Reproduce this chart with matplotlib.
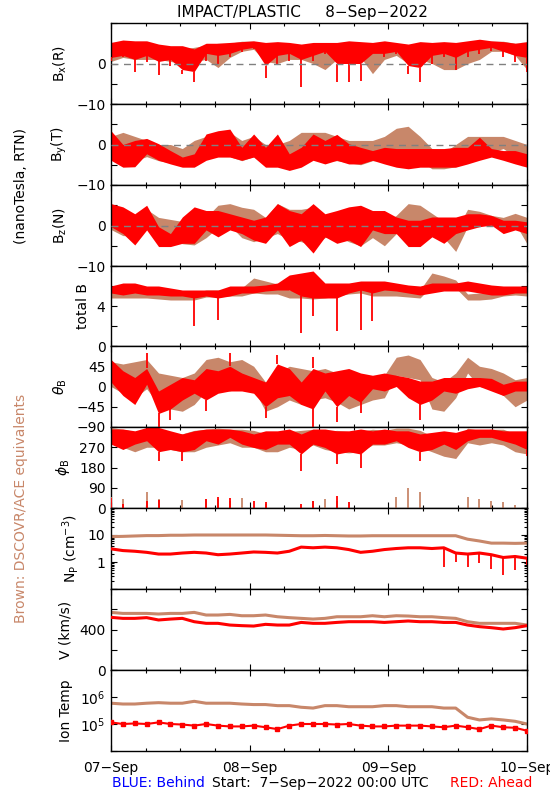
import numpy as np
import matplotlib
matplotlib.use('Agg')
import matplotlib.pyplot as plt
from matplotlib.ticker import MultipleLocator, LogLocator, NullFormatter

#########################################
# colours / time axis
RED = '#ff0000'; BROWN = '#c8876a'
day_ticks = [0, 24, 48, 72]
day_labels = ['07\u2212Sep', '08\u2212Sep', '09\u2212Sep', '10\u2212Sep']
times = np.linspace(0, 72, 36)   # 2-hour samples, hours since 7-Sep 00:00
nan = np.nan
#########################################
# Bx (R)
bx_red_hi = [5.2,5.8,5.6,5.6,4.8,4.4,4.4,3.6,5.0,5.0,5.2,5.4,5.6,5.2,5.4,5.2,4.8,5.2,5.2,5.2,5.6,5.4,5.2,5.6,5.2,4.8,5.4,5.2,5.4,5.2,5.6,6.0,5.6,5.4,5.0,5.4]
bx_red_lo = [1.5,2.0,1.0,2.0,0.5,1.0,-1.5,-2.0,2.5,2.0,2.5,3.5,4.0,-0.5,2.0,2.5,1.0,2.0,3.0,0.0,0.0,0.0,2.5,2.5,3.0,-0.5,-1.0,2.0,2.5,1.5,3.0,3.5,4.0,3.0,2.0,1.5]
bx_red_min = [0.7,1.5,-2.1,0.3,-2.9,-0.5,-2.5,-4.6,0.7,-0.1,1.5,2.8,3.6,-3.7,-0.1,0.7,-5.8,0.7,2.4,-4.6,-4.6,-4.2,2.4,1.5,2.4,-2.5,-4.6,-0.1,1.5,-1.7,1.5,2.4,3.2,1.5,0.3,-2.1]
bx_brn_hi = [5.0,5.0,4.5,4.5,4.0,4.0,3.5,4.0,4.5,5.0,5.0,5.5,5.5,4.0,4.0,4.0,4.5,4.5,4.5,4.5,4.5,4.5,5.0,5.0,5.0,4.0,4.5,4.0,3.0,3.0,3.5,5.0,5.5,5.5,5.0,5.0]
bx_brn_lo = [0.5,1.5,1.0,1.0,1.0,0.5,0.0,0.5,1.0,-1.0,1.5,3.0,3.5,0.5,0.0,1.0,1.0,0.0,-1.5,1.0,2.0,1.5,-2.5,1.0,2.0,0.0,1.0,0.0,-1.5,-1.5,0.0,1.0,3.0,3.0,2.0,-1.5]
# By (T)
by_red_hi = [3.4,0.0,1.0,1.5,0.2,-1.5,-3.1,-2.3,2.6,3.4,3.8,-0.7,2.6,-0.7,2.6,-2.3,-0.7,2.6,1.0,2.5,0.2,-0.7,-1.5,-0.7,-1.0,-1.0,-1.0,-1.0,-1.0,-0.7,-0.7,1.8,-1.0,-1.5,-1.5,-2.3]
by_red_lo = [-3.9,-5.6,-5.5,-2.3,-3.9,-4.8,-5.6,-5.6,-3.9,-3.1,-3.1,-3.9,-3.1,-5.6,-5.6,-6.4,-5.6,-3.9,-4.8,-3.9,-4.8,-4.8,-3.9,-4.8,-5.6,-6.0,-5.6,-5.6,-5.6,-5.6,-4.8,-3.9,-3.1,-3.9,-4.8,-5.6]
by_brn_hi = [2,3,2,1,0,0,-1,1,2,3,3,1,2,0,0,1,3,3,3,2,1,1,1,2,4,4.5,2,-1,-2,0,2,2,2,2,1,0]
by_brn_lo = [-3,-4,-4,-3,-4,-4.5,-5,-4.5,-3,-3,-3,-4,-3,-5,-5,-5,-4,-3,-4,-4,-4.5,-5,-4,-4,-3,-2,-4,-6,-6,-5.5,-2,-2,-2,-1,-3,-3]
# Bz (N)
bz_red_hi = [5.4,4.6,2.9,5.0,-0.3,-2.0,2.1,4.6,3.7,3.7,2.9,2.1,1.3,2.1,5.4,3.7,2.9,5.4,2.9,3.7,4.6,5.0,3.7,3.7,2.1,1.3,1.3,2.1,2.1,2.1,2.9,2.9,2.5,1.3,1.3,0.9]
bz_red_lo = [-0.3,-2.0,-4.8,-1.1,-5.2,-5.2,-4.4,-4.4,-1.1,-2.8,-1.1,-2.0,-3.6,-4.4,-1.1,-5.2,-3.6,-6.8,-2.8,-4.4,-3.6,-5.2,-1.1,-2.0,-2.0,-5.2,-5.2,-2.8,-4.4,-2.0,-1.1,-0.3,0.1,-2.0,-1.1,-2.0]
bz_brn_hi = [4.5,3.0,2.5,4.0,2.0,1.5,1.0,0.5,2.0,5.0,5.4,4.5,4.0,2.0,5.4,4.0,4.0,4.5,2.0,2.0,2.0,2.0,1.5,0.5,2.5,5.4,5.0,3.0,1.0,-1.5,4.0,3.5,2.5,2.0,3.0,2.0]
bz_brn_lo = [-1.0,-2.5,-2.5,0.0,-3.5,-3.5,-4.5,-4.8,-3.0,-0.5,0.0,-3.0,-4.0,-3.0,-2.0,-3.5,-4.0,-5.0,-3.0,-2.5,-4.0,-5.0,-3.0,-5.0,-2.0,1.0,1.0,-1.0,-3.0,-6.4,-0.3,0.0,0.0,-0.5,0.5,-4.5]
# total B
tb_red_hi = [6.0,6.3,6.3,6.0,6.0,5.8,5.6,5.6,5.6,5.6,6.0,6.0,6.0,6.1,6.3,7.1,7.3,7.5,6.3,6.3,6.3,6.5,6.5,6.5,6.3,6.1,6.0,6.3,6.3,6.3,6.5,6.3,6.1,6.0,6.0,6.0]
tb_red_lo = [5.3,5.1,5.3,5.1,5.1,5.0,5.0,4.8,5.0,4.8,5.0,5.3,5.3,5.5,5.6,5.6,5.0,4.8,4.8,4.8,5.3,5.6,5.3,5.6,5.5,5.3,5.1,5.3,5.5,5.5,5.5,5.3,5.1,5.1,5.3,5.3]
tb_red_min = [nan,nan,nan,nan,nan,nan,nan,2.0,nan,2.6,nan,nan,nan,nan,nan,nan,1.3,3.0,nan,1.5,nan,1.6,2.5,nan,nan,nan,nan,nan,nan,nan,nan,nan,nan,nan,nan,nan]
tb_brn_hi = [5.6,5.5,5.5,5.4,5.4,5.4,5.3,5.3,5.6,5.6,5.6,5.8,6.8,6.5,6.2,5.6,5.5,5.4,5.4,6.0,6.2,6.3,6.0,5.8,5.8,5.6,5.6,7.3,7.0,6.6,5.2,5.3,5.3,5.6,5.8,5.7]
tb_brn_lo = [4.8,4.8,4.8,4.8,4.7,4.6,4.6,4.6,4.9,4.9,5.0,5.0,5.3,5.2,5.2,4.8,4.8,4.7,4.8,5.0,5.2,5.3,5.0,5.0,5.0,4.9,4.8,6.0,6.0,5.8,4.6,4.6,4.7,5.0,5.1,5.0]
# theta_B
th_red_hi = [60,35,20,40,-10,5,20,15,40,35,45,30,20,10,50,40,10,40,30,35,40,30,25,30,25,20,12,12,20,20,20,20,18,5,12,12]
th_red_lo = [10,-20,-40,5,-60,-50,-30,-15,-30,-15,-10,-10,-15,-45,-25,-20,-40,-50,-10,-45,-20,-35,-5,-10,0,-25,-40,-30,-10,-15,-5,0,-10,-20,-10,-10]
th_red_min = [nan,nan,nan,nan,-90,-75,nan,nan,-55,nan,nan,nan,nan,-70,nan,nan,nan,-90,nan,-80,nan,-60,nan,nan,nan,nan,-75,nan,nan,nan,nan,nan,nan,nan,nan,nan]
th_red_max = [nan,nan,nan,75,nan,nan,nan,nan,nan,nan,75,nan,nan,nan,70,nan,nan,65,nan,nan,nan,nan,nan,nan,nan,nan,nan,nan,nan,nan,nan,nan,nan,nan,nan,nan]
th_brn_hi = [55,50,55,60,30,25,20,30,60,65,55,60,45,10,30,45,40,35,40,30,35,25,20,25,65,70,60,20,10,30,65,45,40,30,15,20]
th_brn_lo = [0,-15,-25,-5,-40,-50,-55,-40,-10,-5,-10,0,-5,-55,-45,-30,-40,-30,-25,-35,-50,-40,-30,-25,25,20,15,-50,-55,-25,30,0,-5,-20,-45,-30]
# phi_B
ph_red_hi = [351,351,343,358,358,343,329,343,351,351,351,343,329,343,343,351,329,351,351,343,343,351,343,351,343,343,329,336,343,336,351,351,351,343,343,343]
ph_red_lo = [284,260,284,299,250,260,250,260,299,284,314,284,269,260,284,284,240,284,269,240,250,240,284,284,299,269,250,260,284,260,299,314,314,299,284,260]
ph_red_min = [nan,nan,nan,nan,210,nan,210,nan,nan,nan,nan,nan,nan,nan,nan,nan,166,nan,nan,195,nan,180,nan,nan,nan,nan,210,nan,nan,nan,nan,nan,nan,nan,nan,230]
ph_red_low = [45,20,0,30,35,0,0,0,40,50,45,0,30,25,0,0,20,30,0,55,25,0,0,0,0,0,0,0,0,0,0,0,0,0,0,0]
ph_brn_hi = [358,350,340,345,340,330,330,345,350,355,350,350,345,330,320,340,345,350,340,345,340,340,350,345,355,355,345,320,300,300,355,345,350,350,330,320]
ph_brn_lo = [290,270,250,270,270,260,250,250,270,280,290,270,270,250,250,270,260,280,260,250,245,250,280,280,290,280,270,250,230,220,290,280,290,280,250,240]
ph_brn_low = [50,40,0,70,40,0,35,0,40,40,30,45,0,20,0,0,0,30,40,30,0,0,0,0,50,90,70,0,0,0,50,40,30,25,15,0]
# proton density
np_red = [3.07,2.65,2.50,2.28,1.97,1.97,2.15,2.28,2.15,1.86,1.97,2.15,2.35,2.28,2.15,2.50,3.56,3.36,3.56,3.36,2.89,2.28,2.50,2.89,3.16,3.36,3.36,3.16,3.36,2.15,1.97,2.15,1.86,1.47,1.60,1.38]
np_red_min = [nan,nan,nan,nan,nan,nan,nan,nan,nan,nan,nan,nan,nan,nan,nan,nan,nan,nan,nan,nan,nan,nan,nan,nan,nan,nan,nan,nan,0.66,1.0,0.66,0.9,0.57,0.32,0.49,0.77]
np_brn = [8.7,8.9,9.2,9.5,9.5,9.8,9.8,10,10,10,10,10,10,10,9.8,9.6,9.4,9.4,9.6,9.4,9.2,9.2,9.4,9.4,9.4,9.4,9.4,9.4,9.4,9.4,7.0,6.0,5.0,5.0,4.9,5.0]
# speed
v_red = [520,510,510,517,494,503,510,477,461,461,444,438,434,451,444,444,470,461,461,470,477,477,477,470,477,484,477,477,470,470,444,428,418,405,418,438]
v_brn = [569,559,559,559,553,559,559,569,543,543,549,536,536,543,526,517,510,503,510,526,526,526,536,526,536,533,526,526,517,510,477,461,461,461,461,444]
# ion temperature (log10 K)
t_red = [5.06,5.00,5.02,5.00,5.06,5.00,4.98,4.94,5.00,4.94,4.91,4.91,4.94,4.88,4.81,4.94,5.00,5.00,5.00,4.98,5.00,4.94,4.91,4.91,4.94,4.94,4.94,4.91,4.88,4.94,4.88,4.81,4.94,4.88,4.86,4.75]
t_brn = [5.77,5.74,5.74,5.77,5.79,5.77,5.77,5.84,5.77,5.77,5.77,5.74,5.72,5.72,5.68,5.68,5.62,5.59,5.68,5.68,5.64,5.64,5.64,5.68,5.68,5.64,5.64,5.64,5.59,5.59,5.25,5.15,5.19,5.15,5.10,5.00]
#########################################
plt.rcParams['font.family'] = 'DejaVu Sans'
plt.rcParams['font.size'] = 10
fig = plt.figure(figsize=(5.5, 8), dpi=100)
edges = [23, 104, 185, 266, 346, 427, 508, 589, 670, 751]
L = 111/550; W = 416/550
axs = []
for i in range(9):
    top, bot = edges[i], edges[i+1]
    ax = fig.add_axes([L, 1-bot/800, W, (bot-top)/800])
    ax.set_xlim(0, 72)
    ax.set_xticks(day_ticks)
    ax.xaxis.set_minor_locator(MultipleLocator(6))
    ax.tick_params(which='both', direction='in', top=True, right=True, width=0.8, labelsize=10, pad=4)
    ax.tick_params(which='major', length=4)
    ax.tick_params(which='minor', length=2.5)
    for s in ax.spines.values():
        s.set_linewidth(1.0)
    if i < 8:
        ax.set_xticklabels([])
    axs.append(ax)

def band(ax, hi, lo, c):
    ax.fill_between(times, lo, hi, color=c, lw=0, zorder=2)

def spikes(ax, frm, to, c):
    frm = np.array(frm, float); to = np.array(to, float)
    m = np.isfinite(to)
    ax.vlines(times[m], frm[m], to[m], color=c, lw=1.3, zorder=3)

def zero(ax):
    ax.axhline(0, color='#808080', lw=1.0, ls=(0, (5, 4)), zorder=4)

M = '\u2212'
# Bx
ax = axs[0]
band(ax, bx_brn_hi, bx_brn_lo, BROWN); band(ax, bx_red_hi, bx_red_lo, RED); spikes(ax, bx_red_lo, bx_red_min, RED); zero(ax)
ax.set_ylim(-10, 10); ax.set_yticks([-10, -5, 0, 5, 10]); ax.set_yticklabels([M+'10', '', '0', '', ''])
ax.set_ylabel('B$_\\mathrm{x}$(R)')
# By
ax = axs[1]
band(ax, by_brn_hi, by_brn_lo, BROWN); band(ax, by_red_hi, by_red_lo, RED); zero(ax)
ax.set_ylim(-10, 10); ax.set_yticks([-10, -5, 0, 5, 10]); ax.set_yticklabels([M+'10', '', '0', '', ''])
ax.set_ylabel('B$_\\mathrm{y}$(T)')
# Bz
ax = axs[2]
band(ax, bz_brn_hi, bz_brn_lo, BROWN); band(ax, bz_red_hi, bz_red_lo, RED); zero(ax)
ax.set_ylim(-10, 10); ax.set_yticks([-10, -5, 0, 5, 10]); ax.set_yticklabels([M+'10', '', '0', '', ''])
ax.set_ylabel('B$_\\mathrm{z}$(N)')
# total B
ax = axs[3]
band(ax, tb_brn_hi, tb_brn_lo, BROWN); band(ax, tb_red_hi, tb_red_lo, RED); spikes(ax, tb_red_lo, tb_red_min, RED)
ax.set_ylim(0, 8); ax.set_yticks([0, 2, 4, 6, 8]); ax.set_yticklabels(['0', '', '4', '', ''])
ax.set_ylabel('total B')
# theta
ax = axs[4]
band(ax, th_brn_hi, th_brn_lo, BROWN); band(ax, th_red_hi, th_red_lo, RED)
spikes(ax, th_red_lo, th_red_min, RED); spikes(ax, th_red_hi, th_red_max, RED)
ax.set_ylim(-90, 90); ax.set_yticks([-90, -45, 0, 45, 90]); ax.set_yticklabels([M+'90', M+'45', '0', '45', ''])
ax.set_ylabel('$\\theta_\\mathrm{B}$')
# phi
ax = axs[5]
band(ax, ph_brn_hi, ph_brn_lo, BROWN); band(ax, ph_red_hi, ph_red_lo, RED)
spikes(ax, ph_red_lo, ph_red_min, RED)
spikes(ax, np.zeros(36), np.where(np.array(ph_brn_low) > 0, ph_brn_low, nan), BROWN)
spikes(ax, np.zeros(36), np.where(np.array(ph_red_low) > 0, ph_red_low, nan), RED)
ax.set_ylim(0, 360); ax.set_yticks([0, 90, 180, 270, 360]); ax.set_yticklabels(['0', '90', '180', '270', ''])
ax.set_ylabel('$\\phi_\\mathrm{B}$')
# Np
ax = axs[6]
ax.set_yscale('log')
ax.plot(times, np_brn, color=BROWN, lw=2.2, zorder=2)
ax.plot(times, np_red, color=RED, lw=2.2, zorder=3)
spikes(ax, np_red, np_red_min, RED)
ax.set_ylim(0.1, 100); ax.set_yticks([0.1, 1, 10, 100]); ax.set_yticklabels(['', '1', '10', ''])
ax.yaxis.set_minor_locator(LogLocator(base=10, subs=np.arange(2, 10)))
ax.yaxis.set_minor_formatter(NullFormatter())
ax.set_ylabel('N$_\\mathrm{P}$ (cm$^{-3}$)')
# V
ax = axs[7]
ax.plot(times, v_brn, color=BROWN, lw=2.2, zorder=2)
ax.plot(times, v_red, color=RED, lw=2.2, zorder=3)
ax.set_ylim(0, 800); ax.set_yticks([0, 200, 400, 600, 800]); ax.set_yticklabels(['0', '', '400', '', ''])
ax.set_ylabel('V (km/s)')
# T
ax = axs[8]
ax.set_yscale('log')
ax.plot(times, 10**np.array(t_brn), color=BROWN, lw=2.2, zorder=2)
ax.plot(times, 10**np.array(t_red), color=RED, lw=0, marker='s', ms=3.2, zorder=3)
ax.plot(times, 10**np.array(t_red), color=RED, lw=1.5, zorder=3)
ax.set_ylim(1e4, 1e7); ax.set_yticks([1e4, 1e5, 1e6, 1e7]); ax.set_yticklabels(['', '10$^5$', '10$^6$', ''])
ax.yaxis.set_minor_locator(LogLocator(base=10, subs=np.arange(2, 10)))
ax.yaxis.set_minor_formatter(NullFormatter())
ax.set_ylabel('Ion Temp')
ax.set_xticklabels(day_labels)
ax.tick_params(axis='x', pad=7)

for ax in axs:
    ax.yaxis.labelpad = 5

fig.text(302/550, 1-12/800, 'IMPACT/PLASTIC     8\u2212Sep\u22122022', ha='center', va='center', fontsize=11)
fig.text(21/550, 1-186/800, '(nanoTesla, RTN)', rotation=90, ha='center', va='center', fontsize=10)
fig.text(21/550, 1-508/800, 'Brown: DSCOVR/ACE equivalents', rotation=90, ha='center', va='center', fontsize=10, color=BROWN)
fig.text(112/550, 1-783/800, 'BLUE: Behind', ha='left', va='center', fontsize=10, color='#0000ff')
fig.text(212/550, 1-783/800, 'Start:  7\u2212Sep\u22122022 00:00 UTC', ha='left', va='center', fontsize=10)
fig.text(450/550, 1-783/800, 'RED: Ahead', ha='left', va='center', fontsize=10, color=RED)
plt.savefig('out.png', dpi=100)
